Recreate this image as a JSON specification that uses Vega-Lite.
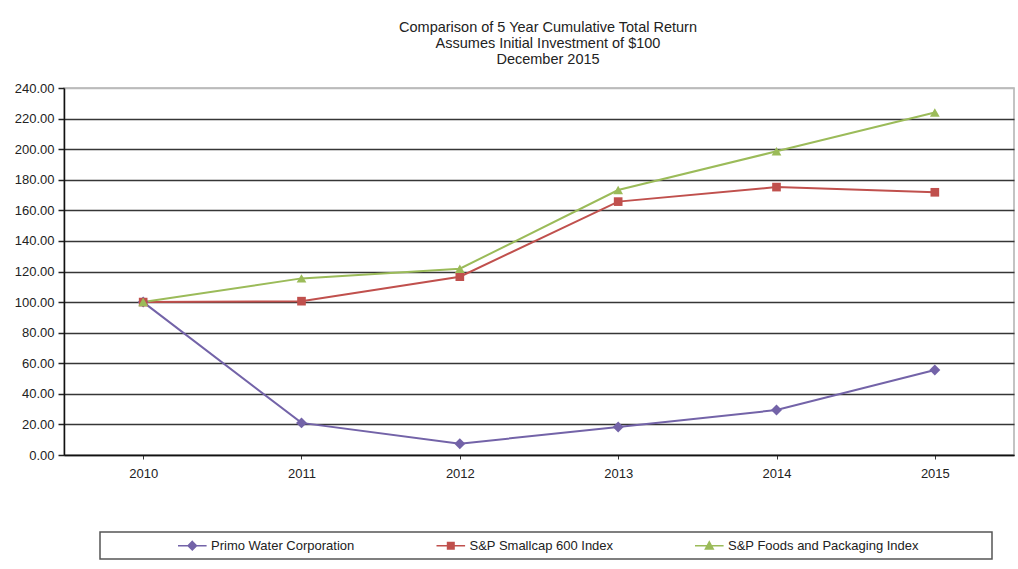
{
  "$schema": "https://vega.github.io/schema/vega-lite/v6.json",
  "width": 950,
  "height": 367,
  "autosize": "none",
  "padding": {"left": 64, "top": 88, "right": 4, "bottom": 114},
  "background": "white",
  "title": {
    "text": ["Comparison of 5 Year Cumulative Total Return", "Assumes Initial Investment of $100", "December 2015"],
    "font": "Liberation Sans",
    "fontSize": 14.5,
    "fontWeight": "normal",
    "lineHeight": 16,
    "color": "#222",
    "anchor": "middle",
    "dx": 9,
    "offset": 15
  },
  "data": {
    "values": [
      {"year": "2010", "series": "Primo Water Corporation", "value": 100},
      {"year": "2011", "series": "Primo Water Corporation", "value": 21},
      {"year": "2012", "series": "Primo Water Corporation", "value": 7.4},
      {"year": "2013", "series": "Primo Water Corporation", "value": 18.3},
      {"year": "2014", "series": "Primo Water Corporation", "value": 29.4},
      {"year": "2015", "series": "Primo Water Corporation", "value": 55.6},
      {"year": "2010", "series": "S&P Smallcap 600 Index", "value": 100},
      {"year": "2011", "series": "S&P Smallcap 600 Index", "value": 100.6},
      {"year": "2012", "series": "S&P Smallcap 600 Index", "value": 116.6},
      {"year": "2013", "series": "S&P Smallcap 600 Index", "value": 165.7},
      {"year": "2014", "series": "S&P Smallcap 600 Index", "value": 175.2},
      {"year": "2015", "series": "S&P Smallcap 600 Index", "value": 171.8},
      {"year": "2010", "series": "S&P Foods and Packaging Index", "value": 100},
      {"year": "2011", "series": "S&P Foods and Packaging Index", "value": 115.5},
      {"year": "2012", "series": "S&P Foods and Packaging Index", "value": 121.8},
      {"year": "2013", "series": "S&P Foods and Packaging Index", "value": 173.3},
      {"year": "2014", "series": "S&P Foods and Packaging Index", "value": 198.6},
      {"year": "2015", "series": "S&P Foods and Packaging Index", "value": 224}
    ]
  },
  "encoding": {
    "x": {
      "field": "year",
      "type": "ordinal",
      "scale": {"type": "point", "padding": 0.5},
      "axis": {
        "title": null,
        "labelAngle": 0,
        "labelFont": "Liberation Sans",
        "labelFontSize": 13,
        "labelColor": "#222",
        "labelPadding": 8,
        "tickSize": 4,
        "tickColor": "#333",
        "domainColor": "#111",
        "domainWidth": 1.5,
        "grid": false
      }
    },
    "y": {
      "field": "value",
      "type": "quantitative",
      "scale": {"domain": [0, 240], "nice": false},
      "axis": {
        "title": null,
        "values": [0, 20, 40, 60, 80, 100, 120, 140, 160, 180, 200, 220, 240],
        "format": ".2f",
        "labelFont": "Liberation Sans",
        "labelFontSize": 13,
        "labelColor": "#222",
        "labelPadding": 4,
        "tickSize": 6,
        "tickColor": "#222",
        "tickWidth": 1.5,
        "domainColor": "#111",
        "domainWidth": 1.5,
        "grid": true,
        "gridColor": {"condition": {"test": "datum.value == 240", "value": "#bbbbbb"}, "value": "#363636"},
        "gridWidth": 1.7
      }
    },
    "color": {
      "field": "series",
      "type": "nominal",
      "sort": ["Primo Water Corporation", "S&P Smallcap 600 Index", "S&P Foods and Packaging Index"],
      "scale": {
        "domain": ["Primo Water Corporation", "S&P Smallcap 600 Index", "S&P Foods and Packaging Index"],
        "range": ["#7363a8", "#c0504d", "#9bbb59"]
      },
      "legend": {
        "title": " ",
        "titleOrient": "right",
        "titlePadding": 67,
        "titleFontSize": 6,
        "orient": "none",
        "legendX": 36,
        "legendY": 444,
        "direction": "horizontal",
        "columns": 3,
        "columnPadding": 9.5,
        "symbolOffset": 71,
        "symbolSize": 169,
        "symbolStrokeWidth": 1.5,
        "labelFont": "Liberation Sans",
        "labelFontSize": 13,
        "labelColor": "#222",
        "labelOffset": 19,
        "labelLimit": 400,
        "padding": 6,
        "strokeColor": "#555",
        "fillColor": "white",
        "encode": {
          "legend": {"update": {"strokeWidth": {"value": 1.5}}},
          "symbols": {
            "update": {
              "shape": {"signal": "datum.value === 'Primo Water Corporation' ? 'M-1,0H3.4M1.2,-0.65L1.85,0L1.2,0.65L0.55,0Z' : (datum.value === 'S&P Smallcap 600 Index' ? 'M-1,0H3.4M0.7,-0.5H1.7V0.5H0.7Z' : 'M-1,0H3.4M1.2,-0.6L1.8,0.5L0.6,0.5Z')"},
              "fill": {"scale": "color", "field": "value"},
              "stroke": {"scale": "color", "field": "value"},
              "opacity": {"value": 1}
            }
          }
        }
      }
    }
  },
  "layer": [
    {
      "mark": {"type": "line", "strokeWidth": 2}
    },
    {
      "transform": [{"filter": "datum.series === 'Primo Water Corporation'"}],
      "mark": {"type": "point", "filled": true, "shape": "diamond", "size": 120, "opacity": 1}
    },
    {
      "transform": [{"filter": "datum.series === 'S&P Smallcap 600 Index'"}],
      "mark": {"type": "point", "filled": true, "shape": "square", "size": 75, "opacity": 1}
    },
    {
      "transform": [{"filter": "datum.series === 'S&P Foods and Packaging Index'"}],
      "mark": {"type": "point", "filled": true, "shape": "triangle-up", "size": 95, "opacity": 1}
    }
  ],
  "config": {
    "view": {"stroke": "#b0b0b0", "strokeWidth": 1.5}
  }
}
